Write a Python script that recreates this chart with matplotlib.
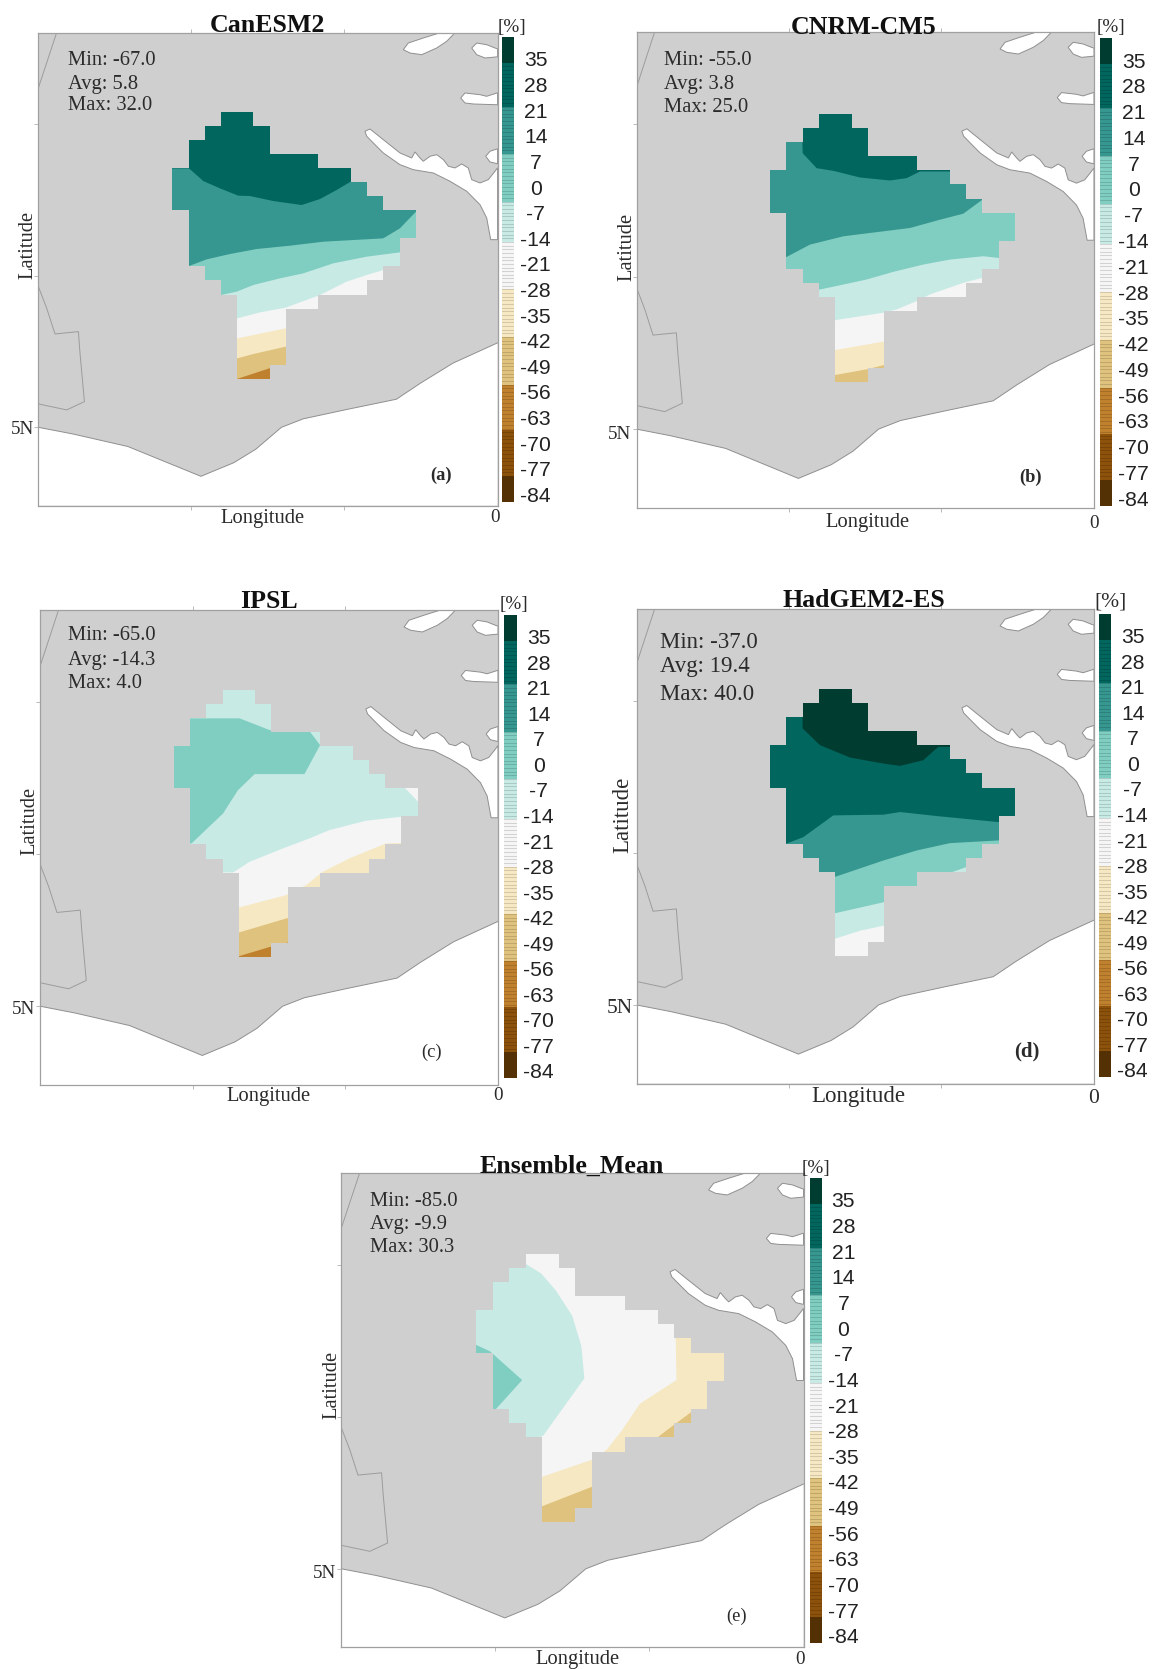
import matplotlib
matplotlib.use('Agg')
import numpy as np
import matplotlib.pyplot as plt
from matplotlib.colors import ListedColormap, BoundaryNorm
from matplotlib.cm import ScalarMappable
from matplotlib.patches import Polygon

W, H = 1157, 1669
SERIF = 'Liberation Serif'
SANS = 'Liberation Sans'

names = ['CanESM2', 'CNRM-CM5', 'IPSL', 'HadGEM2-ES', 'Ensemble_Mean']
mins = ['-67.0', '-55.0', '-65.0', '-37.0', '-85.0']
avgs = ['5.8', '3.8', '-14.3', '19.4', '-9.9']
maxs = ['32.0', '25.0', '4.0', '40.0', '30.3']
letters = ['(a)', '(b)', '(c)', '(d)', '(e)']
letter_bold = ['bold', 'bold', 'normal', 'bold', 'normal']

# colour scale of the percentage change
levels = [-86, -79, -66.5, -54, -41, -28, -15, -4, 9, 22, 34, 41]
colors = ['#543005', '#8c510a', '#bf812d', '#dfc27d', '#f6e8c3', '#f5f5f5',
          '#c7eae5', '#80cdc1', '#35978f', '#01665e', '#003c30']
cb_ticks = [35, 28, 21, 14, 7, 0, -7, -14, -21, -28, -35, -42, -49, -56, -63, -70, -77, -84]

# model cells inside the basin: first and last+1 column of each row
row_start = [3, 2, 1, 1, 0, 0, 0, 1, 1, 1, 1, 2, 3, 4, 4, 4, 4, 4, 4]
row_end = [5, 6, 6, 9, 11, 12, 13, 15, 15, 14, 14, 13, 12, 9, 7, 7, 7, 7, 6]

# map outlines, in map units (0-459 east, 0-473 south)
coast = [(0, 394.6), (34.7, 401.3), (89.5, 413.8), (162.5, 443.6), (195.4, 430), (217.4, 416.5),
         (243, 394.6), (264.9, 386.1), (308.7, 376.7), (358, 366.5), (381.8, 350.6), (414.6, 330.4),
         (459.2, 310.1)]
gulf = [(326.6, 98.5), (331.6, 96.2), (344.9, 106.9), (361.6, 120.2), (373.3, 125.2), (376.6, 119.2),
        (381.6, 125.2), (384.9, 128.5), (391.6, 123.5), (398.3, 121.9), (405, 126.9), (410, 133.5),
        (416.6, 135.2), (423.3, 131.2), (429.9, 135.2), (433.3, 146.9), (441.6, 150.2), (449.9, 146.9),
        (456.6, 138.5), (459.2, 135), (459.2, 206.9), (452.3, 206.9), (448.3, 185.2), (441.6, 171.9),
        (428.3, 158.5), (411.6, 148.5), (394.9, 140.2), (374.9, 136.9), (361.6, 131.9), (344.9, 120.2),
        (334.9, 110.2), (328.3, 103.5)]
islands = [
    [(364.9, 16.9), (369.9, 10.2), (384.9, 5.2), (401.6, 0), (416.6, 0), (408.3, 8.5), (398.3, 15.2),
     (383.3, 21.9), (371.6, 20.2)],
    [(433.3, 15.2), (438.3, 10.2), (448.3, 11.9), (456.6, 15.2), (459.2, 16), (459.2, 24), (446.6, 25.2),
     (438.3, 21.9)],
    [(422.3, 65.2), (426.6, 60.2), (441.6, 61.9), (448.3, 63.5), (459.2, 60), (459.2, 72), (434.9, 71.2),
     (426.6, 70.2)],
    [(447.3, 123.5), (451.6, 118.5), (459.2, 116), (459.2, 131), (451.6, 129.2)],
]
border_1 = [(0, 253.9), (8.3, 275.5), (16.6, 301.2), (40, 298.9), (41.6, 320.5), (46, 368.9),
            (28.3, 377.2), (0, 371.2)]
border_2 = [(18.2, 0), (0, 55)]
lat_ticks = [91.5, 243, 394.6]
lon_ticks = [153, 306]

# where the grid sits in each panel: x0, y0, cell width, cell height
grid_a = (133.9, 78.9, 16.23, 14.07)
grid_b = (134.0, 81.5, 16.39, 14.0)
grid_c = (134.0, 79.7, 16.3, 13.98)
grid_d = (134.0, 79.7, 16.39, 14.03)
grid_e = (134.3, 80.3, 16.38, 14.1)

# digitised frame of the contour lines: left, top, cell width, cell height
frame_a = (97, 35, 48.7, 42.2)
frame_b = (60, 12, 49, 42.4)
frame_c = (72, 60, 48.9, 42.1)
frame_d = (60, 57, 49, 42.1)
frame_e = (483, 336, 45.1, 41.8)

# contour lines: the value holds everywhere north of the line
lines_a = [
    (-62, [(0, 2000), (900, 2000)]),
    (-49, [(200, 860), (297, 835), (388, 805), (437, 795), (900, 700)]),
    (-36, [(292, 775), (340, 762), (437, 740), (900, 640)]),
    (-23, [(292, 715), (437, 685), (900, 600)]),
    (-10, [(292, 655), (360, 637), (437, 623), (540, 585), (620, 545), (680, 525), (731, 510), (900, 470)]),
    (2, [(243, 585), (290, 575), (340, 555), (420, 535), (490, 520), (580, 490), (680, 470), (780, 457), (900, 440)]),
    (15, [(147, 498), (200, 478), (270, 462), (350, 447), (450, 437), (550, 425), (640, 420), (730, 415), (780, 385), (830, 333)]),
    (28, [(147, 205), (190, 243), (240, 265), (295, 287), (330, 288), (400, 303), (485, 315), (540, 297), (590, 270), (632, 245), (900, 245)]),
]
lines_b = [
    (-49, [(0, 2000), (900, 2000)]),
    (-36, [(258, 797), (352, 780), (400, 768), (900, 680)]),
    (-23, [(258, 722), (400, 697), (900, 620)]),
    (-10, [(258, 632), (400, 610), (440, 600), (500, 575), (540, 555), (640, 520), (697, 505), (900, 480)]),
    (2, [(210, 540), (258, 530), (350, 510), (430, 487), (520, 465), (600, 450), (700, 440), (745, 445), (900, 445)]),
    (15, [(60, 460), (110, 442), (180, 405), (280, 380), (400, 365), (480, 355), (570, 330), (640, 312), (697, 270), (900, 270)]),
    (28, [(155, 0), (158, 130), (200, 175), (250, 183), (330, 203), (420, 212), (470, 205), (510, 185), (900, 185)]),
]
lines_c = [
    (-62, [(0, 2000), (900, 2000)]),
    (-49, [(268, 858), (362, 830), (900, 700)]),
    (-36, [(268, 787), (410, 745), (900, 640)]),
    (-23, [(268, 712), (410, 675), (470, 645), (520, 605), (600, 565), (710, 520), (900, 515)]),
    (-10, [(250, 607), (300, 575), (400, 535), (480, 505), (540, 480), (650, 452), (756, 440), (900, 435)]),
]
areas_c = [
    (-23, [(765, 352), (830, 352), (830, 420)]),
    (2, [(0, 145), (270, 145), (360, 180), (480, 183), (512, 225), (465, 312), (315, 312), (265, 360), (220, 430), (125, 520), (0, 520)]),
]
lines_d = [
    (-23, [(0, 2000), (900, 2000)]),
    (-10, [(258, 803), (330, 780), (400, 765), (900, 700)]),
    (2, [(258, 727), (400, 695), (500, 650), (600, 607), (648, 590), (900, 590)]),
    (15, [(258, 618), (400, 570), (500, 540), (600, 518), (745, 510), (900, 510)]),
    (28, [(108, 520), (160, 500), (250, 435), (400, 433), (450, 425), (560, 437), (745, 455), (900, 455)]),
    (38, [(155, 0), (158, 175), (210, 225), (300, 262), (400, 280), (450, 287), (520, 270), (565, 230), (900, 230)]),
]
lines_e = [
    (-49, [(0, 2000), (900, 2000)]),
    (-36, [(600, 1105), (665, 1082), (800, 1025), (880, 960), (980, 878), (1020, 845), (1070, 805), (1300, 805)]),
    (-23, [(600, 1020), (665, 995), (800, 945), (840, 915), (880, 860), (930, 780), (1030, 710), (1028, 585), (1030, 0)]),
]
areas_e = [
    (-10, [(300, 368), (620, 368), (660, 395), (700, 445), (745, 520), (770, 610), (778, 705), (665, 875), (600, 900), (300, 900)]),
    (2, [(470, 600), (520, 625), (608, 710), (535, 797), (470, 797)]),
]

grids = [grid_a, grid_b, grid_c, grid_d, grid_e]
frames = [frame_a, frame_b, frame_c, frame_d, frame_e]
lines_all = [lines_a, lines_b, lines_c, lines_d, lines_e]
areas_all = [[], [], areas_c, [], areas_e]

# page layout in pixels
axes_px = [(38.4, 497.6, 32.8, 505.7), (636.5, 1094, 32, 508), (40.4, 498, 610, 1085),
           (636.5, 1094, 609, 1083.6), (341.3, 803.5, 1173, 1647.4)]
cbar_px = [(501.7, 514, 37, 501.7), (1099.5, 1112, 38, 505.6), (503.5, 517, 615, 1078),
           (1098.5, 1111, 614, 1077), (809.7, 821.7, 1178, 1643)]
title_xy = [(267.5, 25), (864, 28), (269, 602), (864, 600), (572, 1166)]
stat_x = [67.6, 664, 68, 660, 369.5]
stat_y = [(60.4, 84, 106), (60.5, 84, 107), (636, 660, 683), (642.5, 666.5, 694.5), (1201.5, 1225, 1248)]
letter_xy = [(440.6, 475.6), (1031, 477), (432, 1052.6), (1027, 1051.5), (736.5, 1616.7)]
lat_xy = [(28, 245), (627, 247), (30, 820.6), (623, 815), (332, 1385)]
lon_xy = [(263, 518), (867.5, 523), (269, 1096.5), (858, 1096.5), (578, 1659.5)]
fiveN_xy = [(22.5, 429), (619.5, 434), (23.4, 1009), (619.5, 1008), (324.6, 1573)]
zero_xy = [(495, 517.5), (1094, 523), (498, 1095.5), (1094, 1098), (800.5, 1659)]
pct_xy = [(512, 27.5), (1111, 27.5), (514, 604.5), (1110, 602), (816, 1168.5)]
text_size = [14.8, 14.8, 14.8, 16.5, 14.8]

cmap = ListedColormap(colors)
norm = BoundaryNorm(levels, cmap.N)
land = '#cfcfcf'
edge = '#8f8f8f'
ink = '#2b2b2b'

fig = plt.figure(figsize=(W / 100, H / 100), dpi=100, facecolor='white')


def ftext(x, y, s, **kw):
    kw.setdefault('family', SERIF)
    kw.setdefault('color', ink)
    kw.setdefault('ha', 'center')
    kw.setdefault('va', 'center')
    fig.text(x / W, 1 - y / H, s, **kw)


def to_map(pts, frame, grid):
    pts = np.array(pts, dtype=float)
    x = grid[0] + (pts[:, 0] - frame[0]) / frame[2] * grid[2]
    y = grid[1] + (pts[:, 1] - frame[1]) / frame[3] * grid[3]
    return x, y


for i in range(5):
    x0, x1, y0, y1 = axes_px[i]
    ax = fig.add_axes([x0 / W, 1 - y1 / H, (x1 - x0) / W, (y1 - y0) / H])
    ax.set_xlim(0, 459.2)
    ax.set_ylim(473, 0)
    ax.set_facecolor(land)

    sea = coast + [(459.2, 473), (0, 473)]
    ax.fill(*zip(*sea), fc='white', ec='none', zorder=1)
    ax.plot(*zip(*coast), color=edge, lw=0.7, zorder=2)
    ax.fill(*zip(*gulf), fc='white', ec=edge, lw=0.7, zorder=2)
    for isl in islands:
        ax.fill(*zip(*isl), fc='white', ec=edge, lw=0.7, zorder=2)
    ax.plot(*zip(*border_1), color='#9c9c9c', lw=0.7, zorder=2)
    ax.plot(*zip(*border_2), color='#9c9c9c', lw=0.7, zorder=2)

    # basin outline from the row spans
    g = grids[i]
    outline = []
    for r in range(len(row_end)):
        outline += [(g[0] + row_end[r] * g[2], g[1] + r * g[3]), (g[0] + row_end[r] * g[2], g[1] + (r + 1) * g[3])]
    for r in range(len(row_end) - 1, -1, -1):
        outline += [(g[0] + row_start[r] * g[2], g[1] + (r + 1) * g[3]), (g[0] + row_start[r] * g[2], g[1] + r * g[3])]
    basin = Polygon(outline, closed=True, fc='none', ec='none', zorder=3)
    ax.add_patch(basin)

    for val, line in lines_all[i]:
        pts = [(-500, line[0][1])] + line + [(2500, line[-1][1]), (2500, -900), (-500, -900)]
        xs, ys = to_map(pts, frames[i], g)
        for p in ax.fill(xs, ys, color=cmap(norm(val)), lw=0, zorder=3):
            p.set_clip_path(basin)
    for val, poly in areas_all[i]:
        xs, ys = to_map(poly, frames[i], g)
        for p in ax.fill(xs, ys, color=cmap(norm(val)), lw=0, zorder=3):
            p.set_clip_path(basin)

    ax.set_xticks(lon_ticks)
    ax.set_yticks(lat_ticks)
    ax.set_xticklabels([])
    ax.set_yticklabels([])
    ax.tick_params(length=3, width=0.6, color='#b0b0b0', top=True, right=False, direction='out')
    for s in ax.spines.values():
        s.set_color('#a0a0a0')
        s.set_linewidth(0.9)

    # colour bar
    cx0, cx1, cy0, cy1 = cbar_px[i]
    cax = fig.add_axes([cx0 / W, 1 - cy1 / H, (cx1 - cx0) / W, (cy1 - cy0) / H])
    cb = fig.colorbar(ScalarMappable(norm=norm, cmap=cmap), cax=cax, spacing='proportional')
    cb.outline.set_visible(False)
    cb.set_ticks(cb_ticks)
    cb.set_ticklabels([str(t) for t in cb_ticks])
    cax.minorticks_off()
    cax.tick_params(length=0, pad=15.6, labelsize=15.2, labelcolor='#222222')
    for lab in cax.get_yticklabels():
        lab.set_family(SANS)
        lab.set_ha('center')
    cax.hlines(np.arange(-78, 34, 1.0), -1, 2, color='black', lw=0.5, alpha=0.2, transform=cax.get_yaxis_transform())

    # texts
    fs = text_size[i]
    ftext(title_xy[i][0], title_xy[i][1], names[i], fontsize=18.6, weight='bold', color='#111111')
    ftext(stat_x[i], stat_y[i][0], 'Min: ' + mins[i], fontsize=fs, ha='left')
    ftext(stat_x[i], stat_y[i][1], 'Avg: ' + avgs[i], fontsize=fs, ha='left')
    ftext(stat_x[i], stat_y[i][2], 'Max: ' + maxs[i], fontsize=fs, ha='left')
    ftext(letter_xy[i][0], letter_xy[i][1], letters[i], fontsize=fs - 1.5, weight=letter_bold[i])
    ftext(lat_xy[i][0], lat_xy[i][1], 'Latitude', fontsize=fs, rotation=90)
    ftext(lon_xy[i][0], lon_xy[i][1], 'Longitude', fontsize=fs)
    ftext(fiveN_xy[i][0], fiveN_xy[i][1], '5N', fontsize=fs - 1)
    ftext(zero_xy[i][0], zero_xy[i][1], '0', fontsize=fs - 1)
    ftext(pct_xy[i][0], pct_xy[i][1], '[%]', fontsize=fs - 1)

fig.savefig('out.png', dpi=100)
